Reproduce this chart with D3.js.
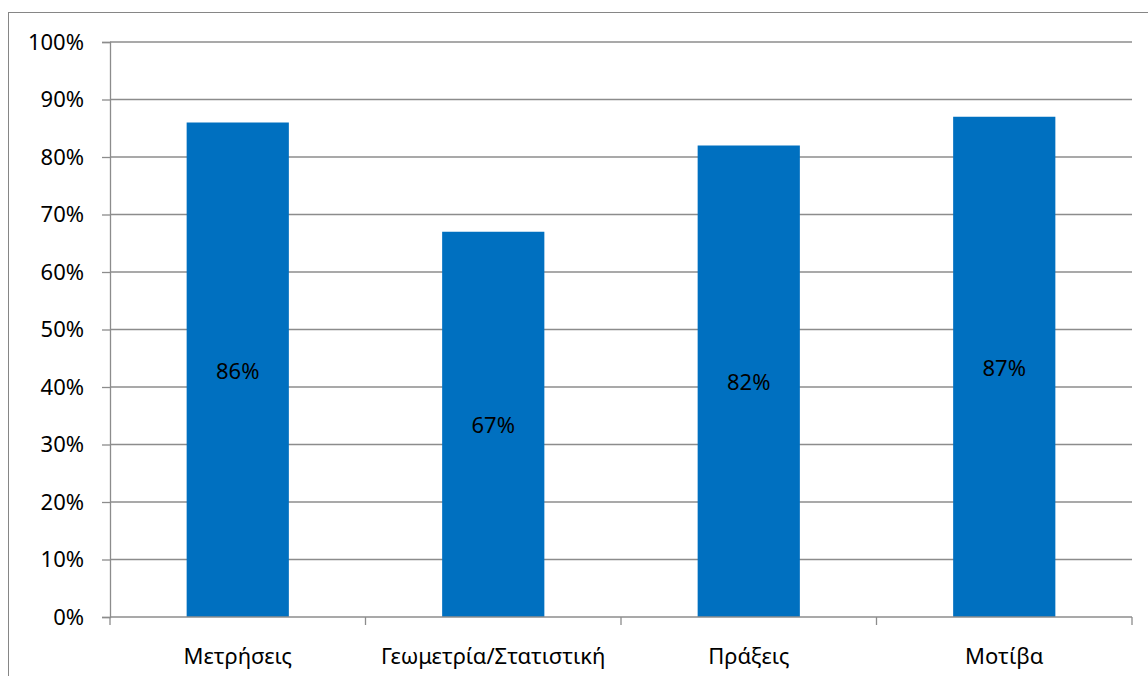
<!DOCTYPE html>
<html>
<head>
<meta charset="utf-8">
<script src="https://cdn.jsdelivr.net/npm/d3@7"></script>
<style>
  html, body { margin: 0; padding: 0; background: #fff; }
  svg { display: block; }
  text { font-family: "Noto Sans", "Open Sans", sans-serif; fill: #000; }
</style>
</head>
<body>
<svg id="chart" width="1148" height="676"></svg>
<script>
// Share of correct answers per topic
const categories = ["Μετρήσεις", "Γεωμετρία/Στατιστική", "Πράξεις", "Μοτίβα"];
const values = [0.86, 0.67, 0.82, 0.87];
const yTicks = [0, 0.1, 0.2, 0.3, 0.4, 0.5, 0.6, 0.7, 0.8, 0.9, 1.0];

const svg = d3.select("#chart");
const W = 1148, H = 676;
const plot = { left: 110, right: 1132, top: 42, bottom: 617 };
const FS = 22;

// outer chart frame
svg.append("rect")
  .attr("x", 8.5).attr("y", 12.5)
  .attr("width", W + 10).attr("height", H + 10)
  .attr("fill", "none").attr("stroke", "#868686").attr("stroke-width", 1);

const x = d3.scaleBand()
  .domain(categories)
  .range([plot.left, plot.right])
  .paddingInner(0.6).paddingOuter(0.3);

const xOuter = d3.scaleBand()
  .domain(categories)
  .range([plot.left, plot.right]);

const y = d3.scaleLinear().domain([0, 1]).range([plot.bottom, plot.top]);

const fmt = d3.format(".0%");

// horizontal gridlines
svg.append("g")
  .selectAll("line")
  .data(yTicks.filter(d => d > 0))
  .join("line")
  .attr("x1", plot.left).attr("x2", plot.right)
  .attr("y1", d => y(d)).attr("y2", d => y(d))
  .attr("stroke", "#8c8c8c").attr("stroke-width", 1.3);

// bars
svg.append("g")
  .selectAll("rect")
  .data(values)
  .join("rect")
  .attr("x", (d, i) => x(categories[i]))
  .attr("width", x.bandwidth())
  .attr("y", d => y(d))
  .attr("height", d => y(0) - y(d))
  .attr("fill", "#0070C0");

// value labels centred inside bars
svg.append("g")
  .selectAll("text")
  .data(values)
  .join("text")
  .attr("x", (d, i) => x(categories[i]) + x.bandwidth() / 2)
  .attr("y", d => (y(d) + y(0)) / 2)
  .attr("text-anchor", "middle")
  .attr("dominant-baseline", "central")
  .attr("font-size", FS)
  .text(d => fmt(d));

// y axis
const yAxis = d3.axisLeft(y).tickValues(yTicks).tickFormat(fmt).tickSize(8).tickPadding(18);
const gy = svg.append("g").attr("transform", `translate(${plot.left},0)`).call(yAxis);
gy.select(".domain").attr("stroke", "#8c8c8c").attr("stroke-width", 1.3);
gy.selectAll(".tick line").attr("stroke", "#8c8c8c").attr("stroke-width", 1.3);
gy.selectAll(".tick text").attr("font-size", FS).attr("font-family", "Noto Sans").attr("fill", "#000");

// x axis with ticks at category boundaries
const gx = svg.append("g").attr("transform", `translate(0,${plot.bottom})`);
gx.append("line")
  .attr("x1", plot.left).attr("x2", plot.right)
  .attr("stroke", "#8c8c8c").attr("stroke-width", 1.3);
const bounds = categories.map(c => xOuter(c)).concat([plot.right]);
gx.selectAll("line.b")
  .data(bounds)
  .join("line")
  .attr("class", "b")
  .attr("x1", d => d).attr("x2", d => d)
  .attr("y1", 0).attr("y2", 8)
  .attr("stroke", "#8c8c8c").attr("stroke-width", 1.3);
gx.selectAll("text")
  .data(categories)
  .join("text")
  .attr("x", c => xOuter(c) + xOuter.bandwidth() / 2)
  .attr("y", 38)
  .attr("text-anchor", "middle")
  .attr("dominant-baseline", "central")
  .attr("font-size", FS)
  .text(c => c);
</script>
</body>
</html>
